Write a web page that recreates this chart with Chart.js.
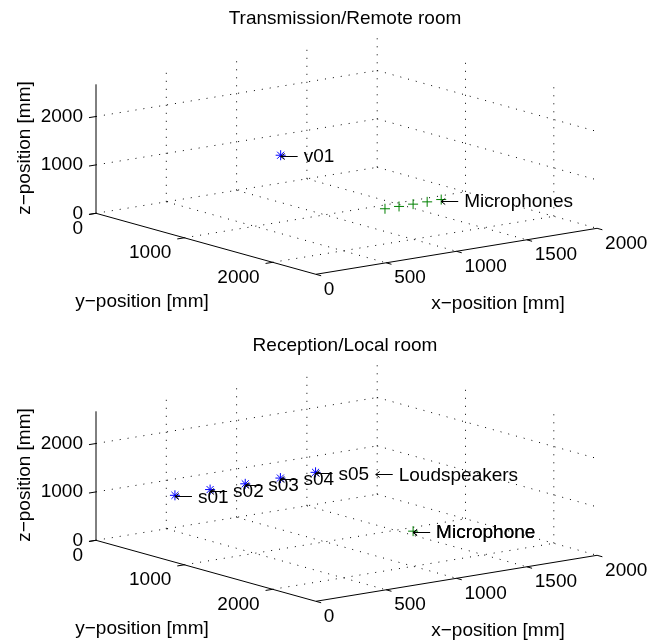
<!DOCTYPE html>
<html lang="en">
<head>
    <meta charset="UTF-8">
    <title>Room layouts</title>
    <script src="https://cdn.jsdelivr.net/npm/chart.js"></script>
    <style>
        html, body { margin: 0; padding: 0; background: #fff; }
        canvas { position: absolute; left: 0; }
        #remote { top: 0; }
        #local { top: 327px; }
    </style>
</head>
<body>
    <canvas id="remote" width="660" height="315"></canvas>
    <canvas id="local" width="660" height="315"></canvas>

    <script>
        // Axis ticks and limits in mm
        const xTicks = [0, 500, 1000, 1500, 2000];
        const yTicks = [0, 1000, 2000];
        const zTicks = [0, 1000, 2000];
        const xMax = 2000, yMax = 2490, zMax = 2665;

        // Positions in mm
        const talkerX = [826], talkerY = [776], talkerZ = [1200];
        const arrayMicX = [820, 920, 1020, 1120, 1220], arrayMicY = [1967, 1967, 1967, 1967, 1967], arrayMicZ = [700, 700, 700, 700, 700];
        const speakerX = [142, 392, 642, 892, 1142], speakerY = [668, 668, 668, 668, 668], speakerZ = [1200, 1200, 1200, 1200, 1200];
        const localMicX = [1020], localMicY = [1967], localMicZ = [700];

        const talkerNames = ['v01'];
        const speakerNames = ['s01', 's02', 's03', 's04', 's05'];

        // Free floating note, no marker under it
        const speakerNote = { text: 'Loudspeakers', x: 1570, y: 668, z: 973 };

        const FONT = '19px "Liberation Sans"';

        // Fixed 3D view, gives the position on the chart's flat scales
        function project(x, y, z) {
            return {
                x: 96 + 0.1406 * x + 0.0883 * y,
                y: 213.3 - 0.0230 * x + 0.0245 * y - 0.0484 * z
            };
        }

        function lineSet(from, to, dash) {
            return {
                data: [project(...from), project(...to)],
                showLine: true,
                pointRadius: 0,
                borderColor: '#000',
                borderWidth: 1,
                borderDash: dash || [],
                order: 5
            };
        }

        function frameSets() {
            const sets = [];
            const dots = [1, 7];
            // floor and walls
            xTicks.forEach(x => {
                if (x > 0) {
                    sets.push(lineSet([x, 0, 0], [x, yMax, 0], dots));
                    sets.push(lineSet([x, 0, 0], [x, 0, zMax], dots));
                }
            });
            yTicks.forEach(y => {
                sets.push(lineSet([0, y, 0], [xMax, y, 0], dots));
                if (y > 0) sets.push(lineSet([xMax, y, 0], [xMax, y, zMax], dots));
            });
            zTicks.forEach(z => {
                if (z > 0) {
                    sets.push(lineSet([0, 0, z], [xMax, 0, z], dots));
                    sets.push(lineSet([xMax, 0, z], [xMax, yMax, z], dots));
                }
            });
            // axes
            sets.push(lineSet([0, 0, 0], [0, 0, zMax]));
            sets.push(lineSet([0, 0, 0], [0, yMax, 0]));
            sets.push(lineSet([0, yMax, 0], [xMax, yMax, 0]));
            // tick marks
            xTicks.forEach(x => sets.push(lineSet([x, yMax, 0], [x, yMax + 60, 0])));
            yTicks.forEach(y => sets.push(lineSet([0, y, 0], [-50, y, 0])));
            zTicks.forEach(z => sets.push(lineSet([0, 0, z], [-50, 0, z])));
            return sets;
        }

        function markerSet(xs, ys, zs, color, style) {
            return {
                data: xs.map((x, i) => project(x, ys[i], zs[i])),
                showLine: false,
                pointStyle: style,
                pointRadius: 5,
                pointBorderColor: color,
                pointBackgroundColor: color,
                pointBorderWidth: 1,
                order: 1
            };
        }

        // Title, axis text and the arrow notes
        function textPlugin(title, notes) {
            return {
                id: 'texts',
                afterDraw(chart) {
                    const ctx = chart.ctx;
                    const sx = chart.scales.x, sy = chart.scales.y;
                    const put = (text, p, dx, dy, align) => {
                        ctx.textAlign = align;
                        ctx.fillText(text, sx.getPixelForValue(p.x) + dx, sy.getPixelForValue(p.y) + dy);
                    };
                    ctx.save();
                    ctx.font = FONT;
                    ctx.fillStyle = '#000';
                    ctx.strokeStyle = '#000';
                    ctx.lineWidth = 1;
                    ctx.textBaseline = 'middle';

                    xTicks.forEach(x => put(String(x), project(x, yMax, 0), 8, 15, 'left'));
                    yTicks.forEach(y => put(String(y), project(0, y, 0), -13, 15, 'right'));
                    zTicks.forEach(z => put(String(z), project(0, 0, z), -13, 0, 'right'));

                    ctx.textAlign = 'center';
                    ctx.fillText(title, sx.getPixelForValue(345), sy.getPixelForValue(19));
                    ctx.fillText('y\u2212position [mm]', sx.getPixelForValue(142), sy.getPixelForValue(301.5));
                    ctx.fillText('x\u2212position [mm]', sx.getPixelForValue(498), sy.getPixelForValue(304));
                    ctx.save();
                    ctx.translate(sx.getPixelForValue(25), sy.getPixelForValue(148));
                    ctx.rotate(-Math.PI / 2);
                    ctx.fillText('z\u2212position [mm]', 0, 0);
                    ctx.restore();

                    notes.forEach(n => {
                        const p = project(n.x, n.y, n.z);
                        const ax = sx.getPixelForValue(p.x), ay = Math.round(sy.getPixelForValue(p.y)) + 1.5;
                        // arrow from the mark to the note text
                        ctx.beginPath();
                        ctx.moveTo(ax + 17, ay);
                        ctx.lineTo(ax, ay);
                        ctx.moveTo(ax + 4, ay - 3);
                        ctx.lineTo(ax, ay);
                        ctx.lineTo(ax + 4, ay + 3);
                        ctx.stroke();
                        put(n.text, p, 23, 2, 'left');
                    });
                    ctx.restore();
                }
            };
        }

        function makeRoom(id, title, markers, notes) {
            return new Chart(document.getElementById(id), {
                type: 'scatter',
                data: { datasets: markers.concat(frameSets()) },
                options: {
                    responsive: false,
                    animation: false,
                    layout: { padding: 0, autoPadding: false },
                    plugins: { legend: { display: false }, tooltip: { enabled: false } },
                    scales: {
                        x: { type: 'linear', display: false, min: 0, max: 660 },
                        y: { type: 'linear', display: false, min: 0, max: 315, reverse: true }
                    }
                },
                plugins: [textPlugin(title, notes)]
            });
        }

        const last = arrayMicX.length - 1;

        makeRoom('remote', 'Transmission/Remote room', [
            markerSet(talkerX, talkerY, talkerZ, '#0000ff', 'star'),
            markerSet(arrayMicX, arrayMicY, arrayMicZ, '#008000', 'cross')
        ], [
            { text: talkerNames[0], x: talkerX[0], y: talkerY[0], z: talkerZ[0] },
            { text: 'Microphones', x: arrayMicX[last], y: arrayMicY[last], z: arrayMicZ[last] }
        ]);

        makeRoom('local', 'Reception/Local room', [
            markerSet(speakerX, speakerY, speakerZ, '#0000ff', 'star'),
            markerSet(localMicX, localMicY, localMicZ, '#008000', 'cross')
        ], speakerNames.map((name, i) => ({ text: name, x: speakerX[i], y: speakerY[i], z: speakerZ[i] })).concat([
            speakerNote,
            // the original label is printed twice, it looks heavier
            { text: 'Microphone', x: localMicX[0], y: localMicY[0], z: localMicZ[0] },
            { text: 'Microphone', x: localMicX[0], y: localMicY[0], z: localMicZ[0] }
        ]));
    </script>
</body>
</html>
